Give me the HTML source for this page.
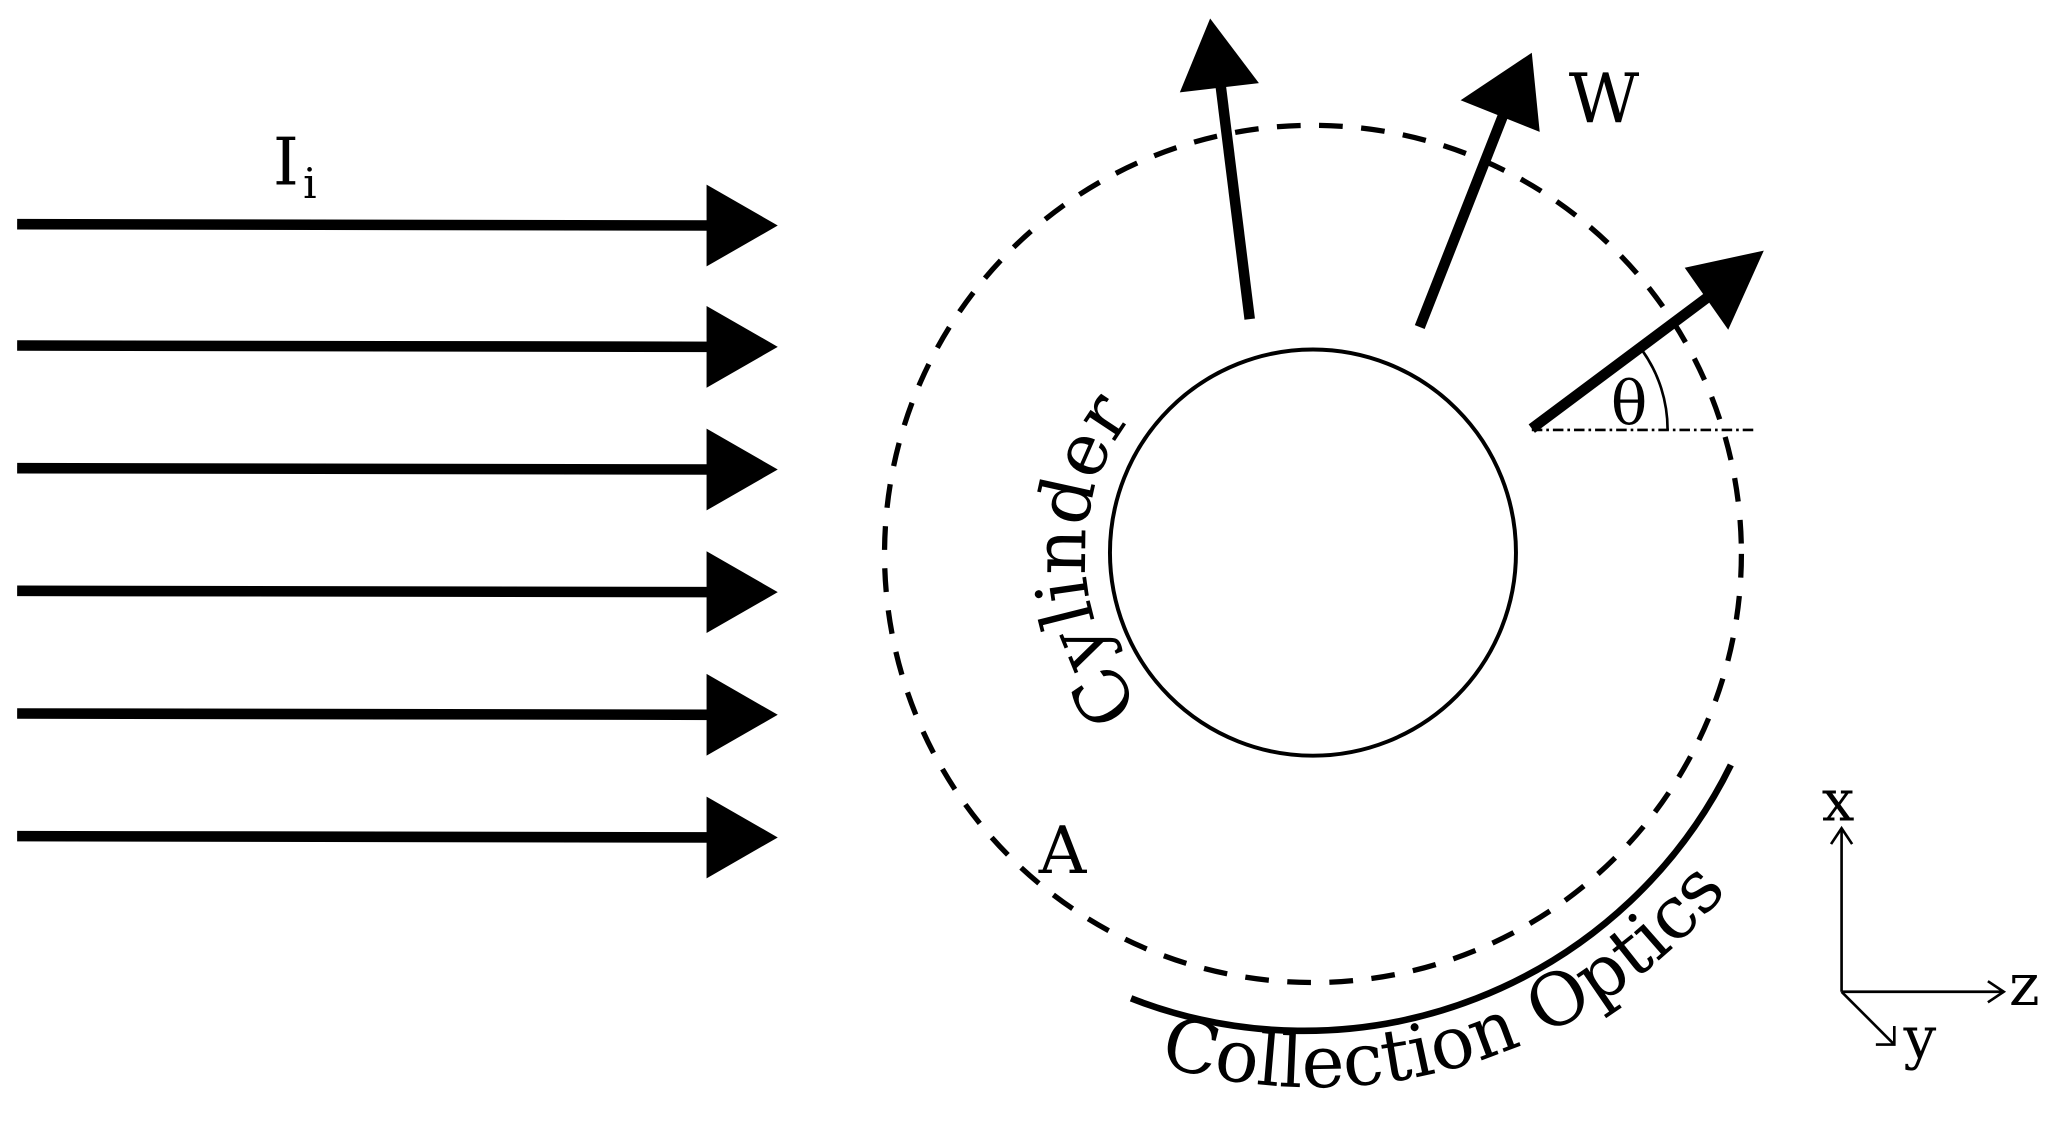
<!DOCTYPE html>
<html><head><meta charset="utf-8"><style>html,body{margin:0;padding:0;background:#fff}svg{display:block}</style></head>
<body>
<svg width="2067" height="1121" viewBox="0 0 1568 850" preserveAspectRatio="none" xmlns="http://www.w3.org/2000/svg" font-family="'DejaVu Serif','Liberation Serif',serif">
<rect width="1568" height="850" fill="#fff"/>
<g stroke="#000" stroke-width="8">
<line x1="13" y1="170" x2="545" y2="171"/>
<line x1="13" y1="262" x2="545" y2="263"/>
<line x1="13" y1="355" x2="545" y2="356"/>
<line x1="13" y1="448" x2="545" y2="449"/>
<line x1="13" y1="541" x2="545" y2="542"/>
<line x1="13" y1="634" x2="545" y2="635"/>
</g>
<g fill="#000">
<polygon points="536,140 590,171 536,202"/>
<polygon points="536,232 590,263 536,294"/>
<polygon points="536,325 590,356 536,387"/>
<polygon points="536,418 590,449 536,480"/>
<polygon points="536,511 590,542 536,573"/>
<polygon points="536,604 590,635 536,666"/>
</g>
<text x="207" y="140" font-size="50">I</text><text x="230" y="150" font-size="32">i</text>
<circle cx="996" cy="420" r="325" fill="none" stroke="#000" stroke-width="4" stroke-dasharray="18 14"/>
<circle cx="996" cy="419" r="154" fill="none" stroke="#000" stroke-width="3"/>
<g stroke="#000" stroke-width="8">
<line x1="948" y1="242" x2="926" y2="65"/>
<line x1="1077" y1="248" x2="1140" y2="88"/>
<line x1="1162" y1="325" x2="1300" y2="222"/>
</g>
<g fill="#000">
<polygon points="918,14 895,70 955,63"/>
<polygon points="1162,40 1108,76 1168,100"/>
<polygon points="1338,190 1278,203 1311,250"/>
</g>
<line x1="1162" y1="326" x2="1332" y2="326" stroke="#000" stroke-width="2" stroke-dasharray="8 3 2 3"/>
<path d="M1265,326 A103,103 0 0 0 1246,266" fill="none" stroke="#000" stroke-width="2"/>
<text x="1222" y="322" font-size="46">θ</text>
<text x="1190" y="93" font-size="52">W</text>
<text x="788" y="662" font-size="50">A</text>
<path d="M858,757 A361,361 0 0 0 1313,580" fill="none" stroke="#000" stroke-width="5"/>
<defs>
<path id="co" d="M879,807 A405,405 0 0 0 1347,622"/>
<path id="cy" d="M866,534 A172,172 0 0 1 910,271"/>
</defs>
<text font-size="55"><textPath href="#co">Collection Optics</textPath></text>
<text font-size="55"><textPath href="#cy">Cylinder</textPath></text>
<g stroke="#000" stroke-width="2" fill="none">
<line x1="1397" y1="752" x2="1397" y2="628"/>
<polyline points="1389,640 1397,628 1405,640"/>
<line x1="1397" y1="752" x2="1520" y2="752"/>
<polyline points="1508,744 1520,752 1508,760"/>
<line x1="1397" y1="752" x2="1437" y2="792"/>
<polyline points="1423,792 1437,792 1437,778"/>
</g>
<text x="1382" y="622" font-size="44">x</text>
<text x="1524" y="762" font-size="44">z</text>
<text x="1444" y="802" font-size="44">y</text>
</svg>
</body></html>
